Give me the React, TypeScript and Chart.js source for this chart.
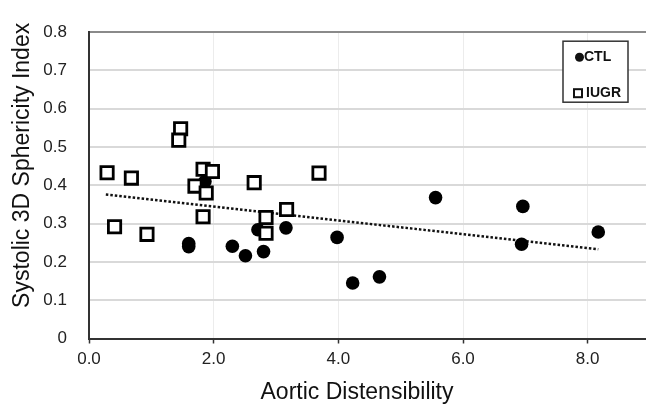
import React, { useEffect, useRef } from "react";
import { Chart, registerables } from "chart.js";

Chart.register(...registerables);

const ctlX = [1.6, 1.6, 1.86, 2.3, 2.51, 2.8, 2.71, 3.16, 3.98, 4.23, 4.66, 5.56, 6.96, 6.94, 8.17];
const ctlY = [0.248, 0.24, 0.41, 0.241, 0.216, 0.227, 0.284, 0.289, 0.264, 0.145, 0.161, 0.368, 0.345, 0.246, 0.278];
const iugrX = [0.29, 0.68, 1.47, 1.44, 1.83, 1.98, 1.7, 1.88, 2.65, 1.83, 2.84, 2.84, 3.17, 0.41, 0.93, 3.69];
const iugrY = [0.433, 0.419, 0.548, 0.518, 0.442, 0.436, 0.398, 0.38, 0.407, 0.318, 0.316, 0.275, 0.337, 0.292, 0.272, 0.432];
const trendX = [0.27, 8.17];
const trendY = [0.376, 0.233];
const xTicks = [0, 2, 4, 6, 8];
const yTicks = [0, 0.1, 0.2, 0.3, 0.4, 0.5, 0.6, 0.7, 0.8];
const seriesNames = ["CTL", "IUGR"];
const xTitle = "Aortic Distensibility";
const yTitle = "Systolic 3D Sphericity Index";

const FONT = "'Liberation Sans', Arial, sans-serif";

const pts = (xs: number[], ys: number[]) => xs.map((x, i) => ({ x, y: ys[i] }));

const decorPlugin = {
  id: "decor",
  afterDraw(chart: any) {
    const ctx = chart.ctx;
    const a = chart.chartArea;
    ctx.save();
    // axis titles
    ctx.fillStyle = "#111";
    ctx.font = `23px ${FONT}`;
    ctx.textAlign = "center";
    ctx.textBaseline = "middle";
    ctx.fillText(xTitle, (a.left + a.right - 25) / 2, 393);
    ctx.translate(23, (a.top + a.bottom - 40) / 2);
    ctx.rotate(-Math.PI / 2);
    ctx.fillText(yTitle, 0, 0);
    ctx.restore();

    // legend
    ctx.save();
    const bx = a.right - 87;
    const by = a.top + 9;
    ctx.fillStyle = "#fff";
    ctx.fillRect(bx, by, 65, 61);
    ctx.strokeStyle = "#333";
    ctx.lineWidth = 1.5;
    ctx.strokeRect(bx, by, 65, 61);
    ctx.fillStyle = "#111";
    ctx.beginPath();
    ctx.arc(bx + 16.5, by + 16, 4.5, 0, Math.PI * 2);
    ctx.fill();
    ctx.lineWidth = 2;
    ctx.strokeStyle = "#111";
    ctx.strokeRect(bx + 11, by + 48, 8, 8);
    ctx.font = `bold 14px ${FONT}`;
    ctx.textAlign = "left";
    ctx.textBaseline = "middle";
    ctx.fillText(seriesNames[0], bx + 21, by + 16);
    ctx.fillText(seriesNames[1], bx + 23, by + 52);
    ctx.restore();
  },
};

export default function App() {
  const ref = useRef<HTMLCanvasElement>(null);
  useEffect(() => {
    if (!ref.current) return;
    const chart = new Chart(ref.current, {
      type: "scatter",
      data: {
        datasets: [
          {
            type: "line",
            label: "trend",
            data: pts(trendX, trendY),
            borderColor: "#111",
            borderWidth: 2.5,
            borderDash: [2.5, 2],
            pointRadius: 0,
            fill: false,
            order: 3,
          } as any,
          {
            label: seriesNames[0],
            data: pts(ctlX, ctlY),
            pointStyle: "circle",
            pointRadius: 6.8,
            backgroundColor: "#000",
            borderWidth: 0,
            order: 2,
          },
          {
            label: seriesNames[1],
            data: pts(iugrX, iugrY),
            pointStyle: "rect",
            pointRadius: 8.7,
            backgroundColor: "#fff",
            borderColor: "#000",
            borderWidth: 2.8,
            order: 1,
          },
        ],
      },
      options: {
        animation: false,
        responsive: false,
        devicePixelRatio: 1,
        layout: { autoPadding: false, padding: { top: 21, left: 0, right: 0, bottom: 0 } },
        plugins: { legend: { display: false }, tooltip: { enabled: false } },
        scales: {
          x: {
            type: "linear",
            min: 0,
            max: 9,
            afterBuildTicks: (s: any) => {
              s.ticks = xTicks.map((v) => ({ value: v }));
            },
            afterFit: (s: any) => {
              s.height = 68.5;
              s.paddingLeft = 0;
              s.paddingRight = 0;
            },
            ticks: {
              callback: (v: any) => Number(v).toFixed(1),
              font: { family: FONT, size: 17 },
              color: "#222",
              padding: 6,
            },
            grid: {
              color: "#ececec",
              lineWidth: 1,
              tickColor: "#333",
              tickLength: 5,
              tickWidth: 1.5,
            },
            border: { color: "#333", width: 2 },
          },
          y: {
            type: "linear",
            min: 0,
            max: 0.8,
            afterBuildTicks: (s: any) => {
              s.ticks = yTicks.map((v) => ({ value: v }));
            },
            afterFit: (s: any) => {
              s.width = 89;
            },
            ticks: {
              callback: (v: any) => (Number(v) === 0 ? "0" : Number(v).toFixed(1)),
              font: { family: FONT, size: 17 },
              color: "#222",
              padding: 22,
            },
            grid: {
              color: (c: any) => (c.tick && c.tick.value === 0.8 ? "#8a8a8a" : "#d9d9d9"),
              lineWidth: 2,
              drawTicks: false,
            },
            border: { color: "#333", width: 2 },
          },
        },
      },
      plugins: [decorPlugin],
    } as any);
    return () => chart.destroy();
  }, []);
  return (
    <div
      style={{
        position: "fixed",
        left: 0,
        top: 0,
        width: 646,
        height: 407,
        overflow: "hidden",
        background: "#fff",
      }}
    >
      <canvas ref={ref} width={650} height={407} style={{ display: "block", width: 650, height: 407 }} />
    </div>
  );
}
